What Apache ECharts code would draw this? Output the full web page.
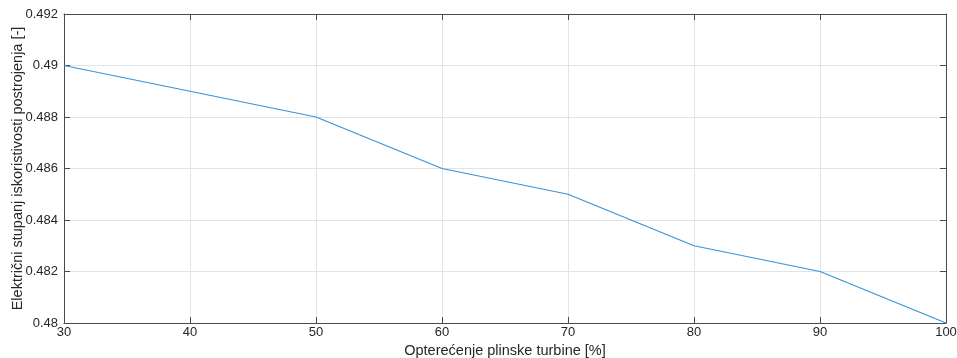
<!DOCTYPE html>
<html>
<head>
<meta charset="utf-8">
<script src="https://cdn.jsdelivr.net/npm/echarts@6/dist/echarts.min.js"></script>
<style>
  html, body { margin: 0; padding: 0; background: #fff; }
  #chart { width: 957px; height: 358px; }
</style>
</head>
<body>
<div id="chart"></div>
<script>
// opterećenje plinske turbine [%]
const loads = [30, 40, 50, 60, 70, 80, 90, 100];
// električni stupanj iskoristivosti postrojenja [-]
const efficiency = [0.490, 0.489, 0.488, 0.486, 0.485, 0.483, 0.482, 0.480];

const axisColor = '#4a4a4a';
const textColor = '#262626';
const fontFamily = 'Liberation Sans, Arial, sans-serif';

const chart = echarts.init(document.getElementById('chart'));

const baseX = {
    type: 'value',
    min: 30,
    max: 100,
    interval: 10,
    axisLine: { show: true, onZero: false, lineStyle: { color: axisColor, width: 1 } },
    axisTick: { show: true, inside: true, length: 6, lineStyle: { color: axisColor } },
    splitLine: { show: true, lineStyle: { color: '#e3e3e3', width: 1 } }
};
const baseY = {
    type: 'value',
    min: 0.48,
    max: 0.492,
    interval: 0.002,
    axisLine: { show: true, onZero: false, lineStyle: { color: axisColor, width: 1 } },
    axisTick: { show: true, inside: true, length: 6, lineStyle: { color: axisColor } },
    splitLine: { show: true, lineStyle: { color: '#e3e3e3', width: 1 } }
};

const option = {
    animation: false,
    grid: { left: 64, top: 14, right: 11, bottom: 35, containLabel: false, outerBoundsMode: 'none' },
    xAxis: [
        Object.assign({}, baseX, {
            position: 'bottom',
            name: 'Opterećenje plinske turbine [%]',
            nameLocation: 'middle',
            nameGap: 20,
            nameMoveOverlap: false,
            nameTextStyle: { color: textColor, fontSize: 14.5, fontFamily: fontFamily },
            axisLabel: { color: textColor, fontSize: 13, fontFamily: fontFamily, margin: 3 }
        }),
        Object.assign({}, baseX, {
            position: 'top',
            axisLabel: { show: false },
            splitLine: { show: false }
        })
    ],
    yAxis: [
        Object.assign({}, baseY, {
            position: 'left',
            name: 'Električni stupanj iskoristivosti postrojenja [-]',
            nameLocation: 'middle',
            nameGap: 39,
            nameMoveOverlap: false,
            nameTextStyle: { color: textColor, fontSize: 14.5, fontFamily: fontFamily },
            axisLabel: {
                color: textColor, fontSize: 13, fontFamily: fontFamily, margin: 6,
                formatter: function (v) { return String(parseFloat(v.toFixed(3))); }
            }
        }),
        Object.assign({}, baseY, {
            position: 'right',
            axisLabel: { show: false },
            splitLine: { show: false }
        })
    ],
    series: [
        {
            type: 'line',
            data: loads.map((x, i) => [x, efficiency[i]]),
            showSymbol: false,
            lineStyle: { color: '#3b93d6', width: 1.2 },
            itemStyle: { color: '#3b93d6' }
        }
    ]
};
chart.setOption(option);
</script>
</body>
</html>
